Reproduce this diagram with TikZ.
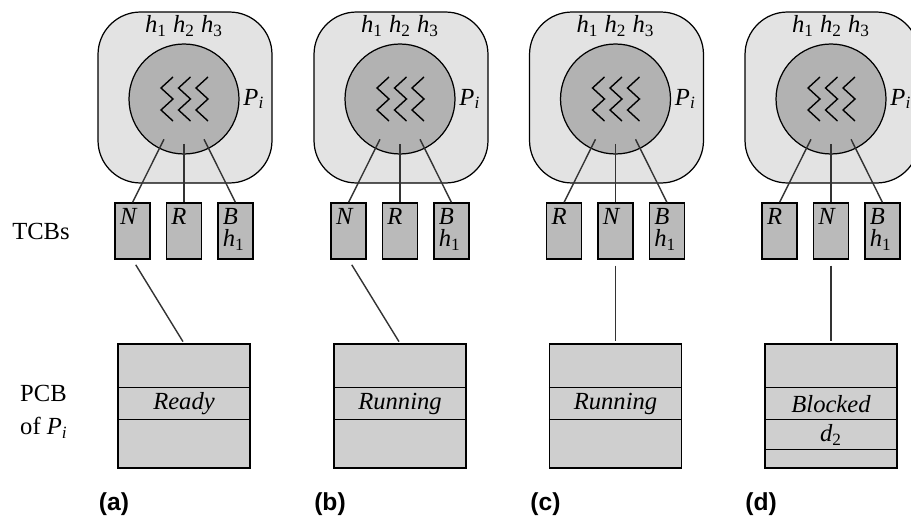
\documentclass[tikz,border=0pt]{standalone}
\usepackage{fontspec}
\setmainfont{Liberation Serif}
\newfontfamily\lblfont{Liberation Sans}
\usetikzlibrary{positioning}
\definecolor{procgray}{gray}{0.89}
\definecolor{threadgray}{gray}{0.70}
\definecolor{tcbgray}{gray}{0.73}
\definecolor{pcbgray}{gray}{0.81}
\newcommand{\vsub}[2]{\textit{#1}\textsubscript{#2}}

\begin{document}
\begin{tikzpicture}[
    x=0.02cm, y=-0.02cm,
    node distance=0.3cm,
    font=\fontsize{14}{14}\selectfont,
    process/.style={rectangle, draw, fill=procgray, rounded corners=0.85cm, minimum width=3.48cm, minimum height=3.42cm, line width=0.7pt},
    thread/.style={circle, draw, fill=threadgray, minimum size=2.2cm, line width=0.7pt},
    tcb/.style={rectangle, draw, fill=tcbgray, minimum width=0.7cm, minimum height=1.12cm, inner sep=0pt, line width=0.8pt},
    tcbtext/.style={anchor=north west, inner xsep=3pt, inner ysep=3pt, align=left, font=\fontsize{14}{13}\selectfont\itshape},
    pcb/.style={rectangle, draw, fill=pcbgray, minimum width=2.64cm, minimum height=2.48cm, inner sep=0pt, line width=0.8pt},
    zig/.style={line width=0.8pt},
    link/.style={draw=black!80, line width=0.8pt},
    panel/.style={font=\lblfont\bfseries\fontsize{14}{14}\selectfont}
]
    \useasboundingbox (0,0) rectangle (911,517);

    % Row labels
    \node (tcbs) at (41,231) {TCBs};
    \node[anchor=west] (pcbtxt) at (14,393) {PCB};
    \node[anchor=west] (oftxt) at (14,428) {of \vsub{P}{\textit{i}}};

    % One panel per state
    \foreach \c/\p/\ta/\tb/\lk/\st in {184/a/N/R/1/Ready, 400/b/N/R/1/Running, 615.5/c/R/N/2/Running, 831/d/R/N/2/Blocked}{
        % process and its threads
        \node[process] (proc\p) at (\c+1,97.5) {};
        \node[thread] (thr\p) at (\c,99) {};
        \node (hs\p) at (\c,26) {\vsub{h}{1} \vsub{h}{2} \vsub{h}{3}};
        \node[right=0pt of thr\p, inner sep=2pt] (pi\p) {\vsub{P}{\textit{i}}};
        \foreach \k in {0,1,2}
            \draw[zig] (\c-11+17.5*\k,77) -- ++(-12,11) -- ++(12,11) -- ++(-12,11) -- ++(12,11);

        % thread control blocks
        \node[tcb] (tcb\p2) at (\c,231) {};
        \node[tcb, left=of tcb\p2] (tcb\p1) {};
        \node[tcb, right=of tcb\p2] (tcb\p3) {};
        \node[tcbtext] (ta\p) at (tcb\p1.north west) {\ta};
        \node[tcbtext] (tb\p) at (tcb\p2.north west) {\tb};
        \node[tcbtext] (tc\p) at (tcb\p3.north west) {B\\\vsub{h}{\upshape 1}};
        \draw[link, shorten <=0.9cm] (thr\p.center) -- (tcb\p1.north);
        \draw[link, shorten <=0.9cm] (thr\p.center) -- (tcb\p2.north);
        \draw[link, shorten <=0.9cm] (thr\p.center) -- (tcb\p3.north);

        % process control block
        \node[pcb] (pcb\p) at (\c,406) {};
        \foreach \r in {0.88,1.52}
            \draw[line width=0.8pt] ([yshift=-\r cm]pcb\p.north west) -- ([yshift=-\r cm]pcb\p.north east);
        \node (st\p) at (\c,404) {\textit{\st}};
        \draw[link, shorten <=0.12cm, shorten >=0.04cm] (tcb\p\lk.south) -- (pcb\p.north);

        \node[panel] (lbl\p) at (\c-70,504) {(\p)};
    }

    % extra field of the blocked thread
    \draw[line width=0.8pt] ([yshift=-2.12cm]pcbd.north west) -- ([yshift=-2.12cm]pcbd.north east);
    \node (devd) at (831,435) {\vsub{d}{2}};
\end{tikzpicture}
\end{document}
